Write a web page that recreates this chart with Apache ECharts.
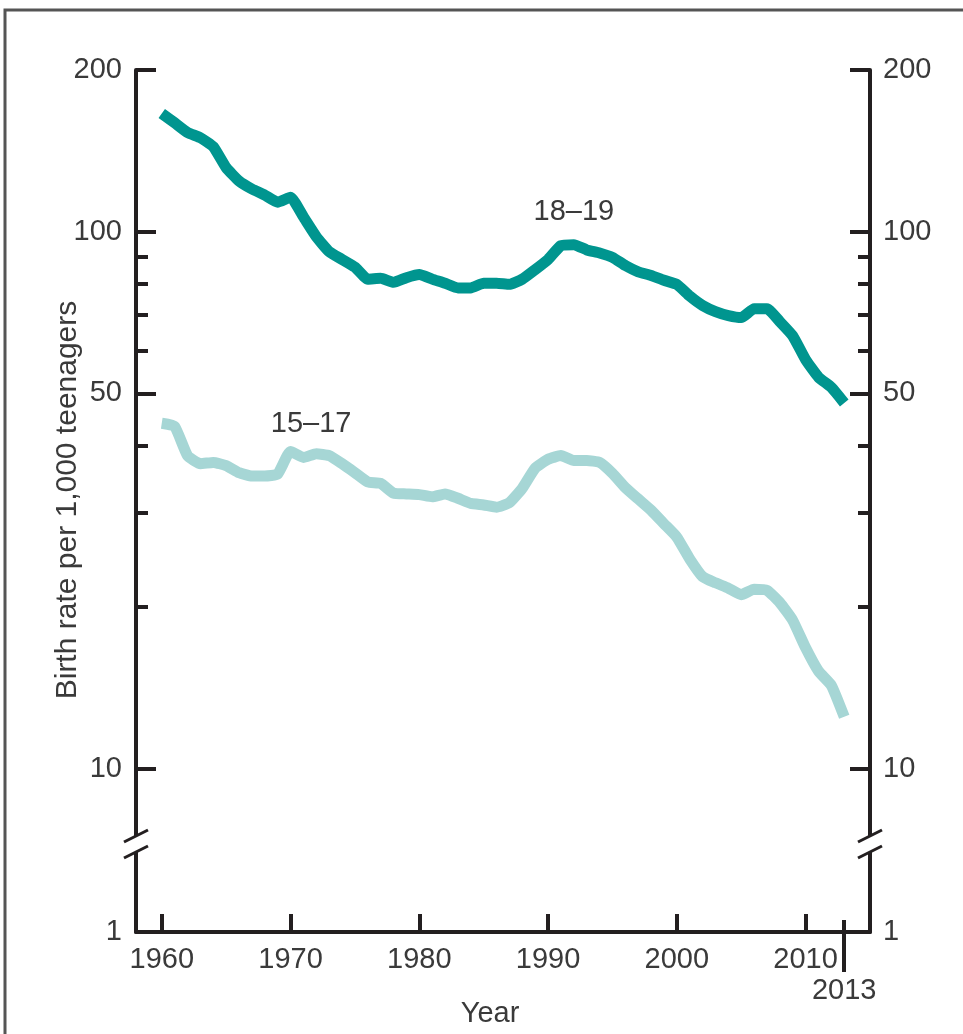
<!DOCTYPE html>
<html><head><meta charset="utf-8">
<script src="https://cdn.jsdelivr.net/npm/echarts@6/dist/echarts.min.js"></script>
<style>html,body{margin:0;padding:0;background:#fff}#c{width:963px;height:1034px}</style>
</head><body><div id="c"></div><script>
const years = [1960,1961,1962,1963,1964,1965,1966,1967,1968,1969,1970,1971,1972,1973,1974,1975,1976,1977,1978,1979,1980,1981,1982,1983,1984,1985,1986,1987,1988,1989,1990,1991,1992,1993,1994,1995,1996,1997,1998,1999,2000,2001,2002,2003,2004,2005,2006,2007,2008,2009,2010,2011,2012,2013];
const rate1819 = [166,159.5,153,149.6,144,131.6,124.3,120.1,117,113.5,115.9,106.6,97.9,91.8,88.8,85.9,81.6,81.9,80.5,82.1,83.2,81.6,80.2,78.6,78.6,80.2,80.2,79.8,81.6,85,88.8,94.2,94.6,92.5,91.3,89.6,86.5,84.2,82.9,81.2,79.8,75.9,72.9,71.0,69.8,69.2,71.9,71.9,68.0,64.0,57.8,53.6,51.3,48.0];
const rate1517 = [44.0,43.4,38.3,37.0,37.2,36.7,35.6,35.1,35.1,35.4,39.0,38.0,38.6,38.3,37.0,35.6,34.2,34.0,32.6,32.5,32.4,32.1,32.5,31.9,31.2,31.0,30.7,31.3,33.3,36.3,37.7,38.3,37.5,37.5,37.2,35.5,33.4,31.8,30.3,28.6,27.0,24.6,22.8,22.2,21.7,21.1,21.6,21.5,20.4,18.9,16.8,15.2,14.3,12.5];
const xTickYears = [1960,1970,1980,1990,2000,2010];
const lastYear = [2013];
const yMajorTicks = [10,50,100,200];
const yMinorTicks = [20,30,40,60,70,80,90];
const yBottomTicks = [1];
const seriesNames = ['18–19','15–17'];
const seriesLabelAt = [[1992.0,109],[1971.6,43.8]];
const xTitle = 'Year';
const yTitle = 'Birth rate per 1,000 teenagers';

const FONT = 'Liberation Sans';
const AX = '#231f20';
const TXT = '#3a3a3a';
const FS = 29;
const GL = 136, GR = 93, GA_TOP = 70, GA_H = 766, GB_TOP = 852, GB_H = 80;

const chart = echarts.init(document.getElementById('c'), null, {renderer:'canvas'});
const plain = v => String(v);

function yAx(grid, pos, type, min, max, vals, len, labels, lineShow, margin) {
  return {
    type: type, logBase: 10, gridIndex: grid, position: pos, min: min, max: max,
    axisLine: {show: lineShow, onZero: false, lineStyle: {color: AX, width: 4}},
    axisTick: {show: len > 0, inside: true, length: len, customValues: vals, lineStyle: {color: AX, width: 4}},
    axisLabel: {show: labels, customValues: vals, formatter: plain, fontSize: FS, fontFamily: FONT, color: TXT, margin: margin},
    splitLine: {show: false}, minorTick: {show: false}
  };
}

const option = {
  animation: false,
  backgroundColor: '#fff',
  grid: [
    {left: GL, right: GR, top: GA_TOP, height: GA_H},
    {left: GL, right: GR, top: GB_TOP, height: GB_H}
  ],
  xAxis: [
    {type: 'value', gridIndex: 0, min: 1958, max: 2015, show: false},
    {type: 'value', gridIndex: 1, min: 1958, max: 2015, position: 'bottom',
     axisLine: {show: true, onZero: false, lineStyle: {color: AX, width: 4}},
     axisTick: {show: true, inside: true, length: 18, customValues: xTickYears, lineStyle: {color: AX, width: 4}},
     axisLabel: {customValues: xTickYears, formatter: plain, fontSize: FS, fontFamily: FONT, color: TXT, margin: 13},
     splitLine: {show: false}},
    {type: 'value', gridIndex: 1, min: 1958, max: 2015, position: 'bottom',
     axisLine: {show: false, onZero: false},
     axisTick: {show: true, inside: true, length: 12, customValues: lastYear, lineStyle: {color: AX, width: 4}},
     axisLabel: {show: false},
     splitLine: {show: false}},
    {type: 'value', gridIndex: 1, min: 1958, max: 2015, position: 'bottom',
     axisLine: {show: false, onZero: false},
     axisTick: {show: true, inside: false, length: 40, customValues: lastYear, lineStyle: {color: AX, width: 4}},
     axisLabel: {customValues: lastYear, formatter: plain, fontSize: FS, fontFamily: FONT, color: TXT, margin: 44},
     splitLine: {show: false}}
  ],
  yAxis: [
    yAx(0, 'left', 'log', 7.5, 200, yMajorTicks, 20, true, true, 14),
    yAx(0, 'right', 'log', 7.5, 200, yMajorTicks, 20, true, true, 13),
    yAx(0, 'left', 'log', 7.5, 200, yMinorTicks, 12, false, false, 14),
    yAx(0, 'right', 'log', 7.5, 200, yMinorTicks, 12, false, false, 13),
    yAx(1, 'left', 'log', 1, 2, yBottomTicks, 0, true, true, 14),
    yAx(1, 'right', 'log', 1, 2, yBottomTicks, 0, true, true, 13)
  ],
  series: [
    {type: 'line', name: seriesNames[0], xAxisIndex: 0, yAxisIndex: 0, showSymbol: false, symbol: 'none', smooth: 0.15,
     data: years.map((y, i) => [y, rate1819[i]]),
     lineStyle: {color: '#00958f', width: 11, join: 'round', cap: 'butt'},
     markPoint: {symbol: 'circle', symbolSize: 0, silent: true,
       data: [{coord: seriesLabelAt[0], value: seriesNames[0]}],
       label: {show: true, position: 'inside', formatter: seriesNames[0], fontSize: FS, fontFamily: FONT, color: TXT}}},
    {type: 'line', name: seriesNames[1], xAxisIndex: 0, yAxisIndex: 0, showSymbol: false, symbol: 'none', smooth: 0.15,
     data: years.map((y, i) => [y, rate1517[i]]),
     lineStyle: {color: '#a6d6d5', width: 11, join: 'round', cap: 'butt'},
     markPoint: {symbol: 'circle', symbolSize: 0, silent: true,
       data: [{coord: seriesLabelAt[1], value: seriesNames[1]}],
       label: {show: true, position: 'inside', formatter: seriesNames[1], fontSize: FS, fontFamily: FONT, color: TXT}}}
  ]
};
chart.setOption(option);

// decorations: frame, axis titles, axis-break marks
const yA = GA_TOP + GA_H, yB = GB_TOP;
const xL = GL, xR = 963 - GR;
function slash(x, y) {
  return {type: 'line', z: 100, shape: {x1: x - 12, y1: y + 6, x2: x + 12, y2: y - 6},
          style: {stroke: AX, lineWidth: 3}};
}
chart.setOption({
  graphic: [
    {type: 'rect', z: -10, shape: {x: 5, y: 10, width: 1000, height: 1100},
     style: {fill: 'none', stroke: '#555', lineWidth: 3}},
    {type: 'text', x: 68, y: 500, rotation: Math.PI / 2,
     style: {text: yTitle, fontSize: 30, fontFamily: FONT, fill: TXT, align: 'center', verticalAlign: 'middle'}},
    {type: 'text', x: 490, y: 1014,
     style: {text: xTitle, fontSize: FS, fontFamily: FONT, fill: TXT, align: 'center', verticalAlign: 'middle'}},
    {type: 'rect', z: 99, shape: {x: xL - 4, y: yA, width: 8, height: yB - yA}, style: {fill: '#fff'}},
    {type: 'rect', z: 99, shape: {x: xR - 4, y: yA, width: 8, height: yB - yA}, style: {fill: '#fff'}},
    slash(xL, yA), slash(xL, yB), slash(xR, yA), slash(xR, yB)
  ]
});
</script></body></html>
